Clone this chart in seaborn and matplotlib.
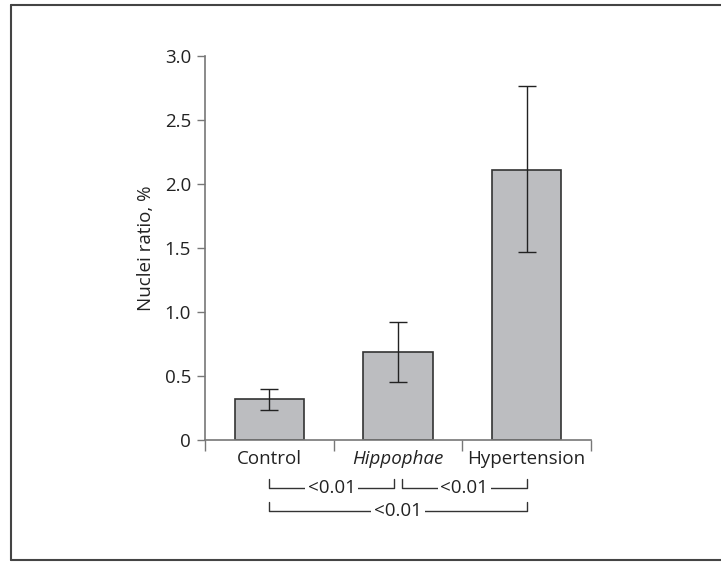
import seaborn as sns
import matplotlib.pyplot as plt
import pandas as pd
from matplotlib.lines import Line2D
import matplotlib.transforms as mtransforms

# values
groups = ['Control', 'Hippophae', 'Hypertension']
ratio = [0.32, 0.69, 2.11]
err_low = [0.235, 0.45, 1.465]
err_high = [0.40, 0.925, 2.765]
yticks = [0, 0.5, 1.0, 1.5, 2.0, 2.5, 3.0]
ytick_labels = ['0', '0.5', '1.0', '1.5', '2.0', '2.5', '3.0']
# significance brackets: (from, to, row, label)
brackets = [(0, 0.97, 0, '<0.01'), (1.03, 2, 0, '<0.01'), (0, 2, 1, '<0.01')]

df = pd.DataFrame({'group': groups, 'ratio': ratio})

sns.set_style('ticks')
plt.rcParams['font.family'] = ['Open Sans', 'DejaVu Sans']
FS = 13.5

fig = plt.figure(figsize=(7.21, 5.62), dpi=100)
ax = fig.add_axes([205 / 721, 122 / 562, 386 / 721, 384 / 562])

sns.barplot(data=df, x='group', y='ratio', color='#bcbdc0', saturation=1,
            edgecolor='#333333', linewidth=1.2, width=0.54, errorbar=None, ax=ax)

lo = [r - l for r, l in zip(ratio, err_low)]
hi = [h - r for r, h in zip(ratio, err_high)]
ax.errorbar(range(len(groups)), ratio, yerr=[lo, hi], fmt='none',
            ecolor='#222222', elinewidth=1.0, capsize=6.5, capthick=1.0)

ax.set_xlim(-0.5, 2.5)
ax.set_ylim(0, 3.0)
ax.set_yticks(yticks)
ax.set_yticklabels(ytick_labels, fontsize=FS, color='#222222')
ax.set_ylabel('Nuclei ratio, %', fontsize=FS, color='#222222', labelpad=7)
ax.set_xlabel('')

# boundary ticks between groups, labels in the middle
ax.set_xticks([-0.5, 0.5, 1.5, 2.5])
ax.set_xticklabels([])
ax.set_xticks([0, 1, 2], minor=True)
ax.set_xticklabels(groups, minor=True, fontsize=FS, color='#222222')
ax.tick_params(axis='x', which='minor', length=0, pad=7)
ax.tick_params(axis='x', which='major', length=8, width=1, color='#777777')
ax.tick_params(axis='y', length=6, width=1, color='#777777', pad=4)
for lab in ax.get_xticklabels(minor=True):
    if lab.get_text() == 'Hippophae':
        lab.set_style('italic')

sns.despine(ax=ax)
for s in ['left', 'bottom']:
    ax.spines[s].set_color('#777777')
    ax.spines[s].set_linewidth(1.2)

# significance brackets under the axis
trans = mtransforms.blended_transform_factory(ax.transData, fig.transFigure)
rows_y = [(562 - 488) / 562, (562 - 511) / 562]
tick_h = 9 / 562
for x0, x1, row, txt in brackets:
    y = rows_y[row]
    ax.plot([x0, x0, x1, x1], [y + tick_h, y, y, y + tick_h], transform=trans,
            color='#333333', lw=1.0, clip_on=False)
    ax.text((x0 + x1) / 2, y, txt, transform=trans, ha='center', va='center',
            fontsize=FS, color='#222222',
            bbox=dict(facecolor='white', edgecolor='none', pad=2))

# outer frame
fx0, fy0, fy1 = 11 / 721, 1 - 560 / 562, 1 - 5 / 562
for xs, ys in [([fx0, 1.01], [fy1, fy1]), ([fx0, fx0], [fy0, fy1]), ([fx0, 1.01], [fy0, fy0])]:
    fig.add_artist(Line2D(xs, ys, transform=fig.transFigure, color='#444444', lw=1.5))

fig.savefig('out.png', dpi=100)
